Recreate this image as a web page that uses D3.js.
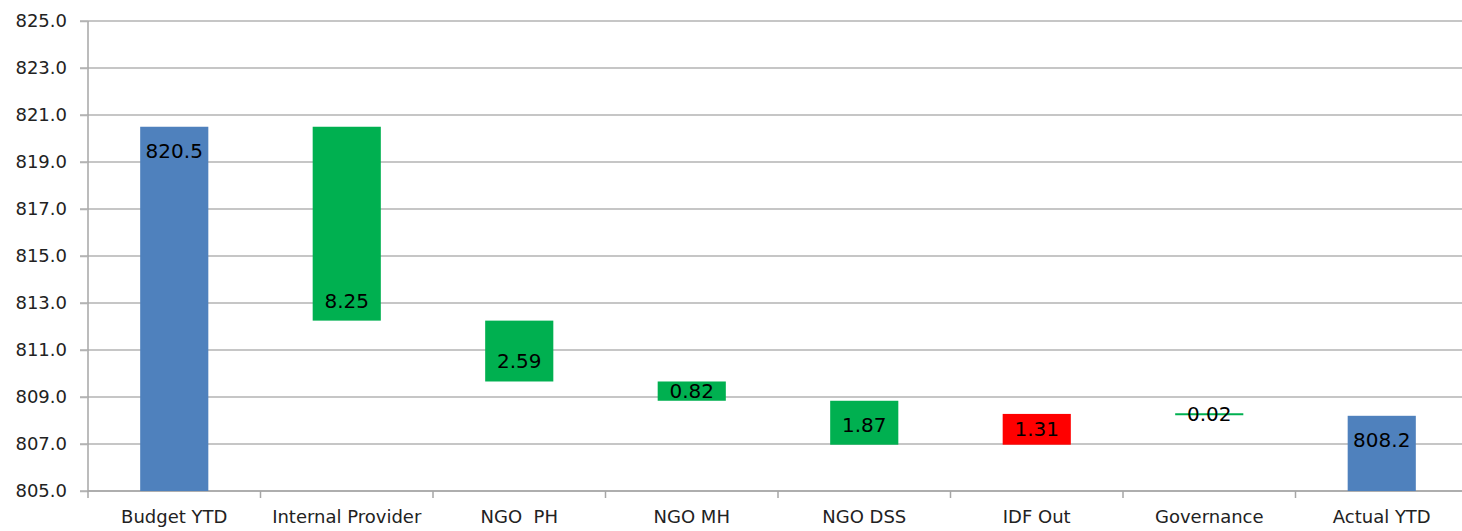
<!DOCTYPE html>
<html>
<head>
<meta charset="utf-8">
<script src="https://cdn.jsdelivr.net/npm/d3@7"></script>
<style>
  html, body { margin: 0; padding: 0; background: #fff; }
  svg text { font-family: "DejaVu Sans", sans-serif; }
</style>
</head>
<body>
<svg id="chart" width="1462" height="531"></svg>
<script>
// Budget-to-actual waterfall (YTD, $m)
const categories = ["Budget YTD", "Internal Provider", "NGO  PH", "NGO MH", "NGO DSS", "IDF Out", "Governance", "Actual YTD"];
const values     = [820.5, -8.25, -2.59, -0.82, -1.87, 1.31, -0.02, 808.2];
const kinds      = ["total", "change", "change", "change", "change", "change", "change", "total"];
const yTicks     = [805, 807, 809, 811, 813, 815, 817, 819, 821, 823, 825];

const colors = { total: "#4F81BD", down: "#00B050", up: "#FF0000" };

const svg = d3.select("#chart");
const plotLeft = 88, plotRight = 1468, plotTop = 21, plotBottom = 491;

const x = d3.scaleBand().domain(categories).range([plotLeft, plotRight]).padding(0);
const y = d3.scaleLinear().domain([805, 825]).range([plotBottom, plotTop]);

// floating segments from the running total
let running = 0;
const bars = categories.map((c, i) => {
  const v = values[i];
  if (kinds[i] === "total") {
    running = v;
    return { c, v, lo: 805, hi: v, kind: "total", label: d3.format(".1f")(v) };
  }
  const from = running;
  running += v;
  return {
    c, v,
    lo: Math.min(from, running), hi: Math.max(from, running),
    kind: v < 0 ? "down" : "up",
    label: d3.format(".2f")(Math.abs(v))
  };
});

// gridlines
svg.append("g")
  .selectAll("line")
  .data(yTicks)
  .join("line")
  .attr("x1", plotLeft - 8).attr("x2", 1462)
  .attr("y1", d => y(d)).attr("y2", d => y(d))
  .attr("stroke", "#b3b3b3").attr("stroke-width", 1.5);

// y axis
const yAxis = svg.append("g")
  .attr("transform", `translate(${plotLeft},0)`)
  .call(d3.axisLeft(y).tickValues(yTicks).tickFormat(d3.format(".1f")).tickSize(8).tickPadding(13));
yAxis.select(".domain").attr("stroke", "#a6a6a6").attr("stroke-width", 1.5).attr("d", `M0,${plotTop}V${plotBottom}`);
yAxis.selectAll(".tick line").attr("stroke", "#b3b3b3").attr("stroke-width", 1.5);
yAxis.selectAll(".tick text").attr("font-size", 18).attr("fill", "#222");

// x axis with ticks on category boundaries
const xAxis = svg.append("g").attr("transform", `translate(0,${plotBottom})`);
xAxis.append("line").attr("x1", plotLeft).attr("x2", 1462).attr("stroke", "#a6a6a6").attr("stroke-width", 1.5);
xAxis.selectAll("line.b")
  .data(categories)
  .join("line").attr("class", "b")
  .attr("x1", d => x(d)).attr("x2", d => x(d))
  .attr("y1", 0).attr("y2", 7)
  .attr("stroke", "#a6a6a6").attr("stroke-width", 1.5);
xAxis.selectAll("text")
  .data(categories)
  .join("text")
  .attr("x", d => x(d) + x.bandwidth() / 2)
  .attr("y", 32)
  .attr("text-anchor", "middle")
  .attr("font-size", 18)
  .attr("fill", "#222")
  .style("white-space", "pre")
  .text(d => d);

// bars
const bw = x.bandwidth() * 0.395;
svg.append("g")
  .selectAll("rect")
  .data(bars.filter(b => (y(b.lo) - y(b.hi)) >= 2))
  .join("rect")
  .attr("x", d => x(d.c) + (x.bandwidth() - bw) / 2)
  .attr("width", bw)
  .attr("y", d => y(d.hi))
  .attr("height", d => y(d.lo) - y(d.hi))
  .attr("fill", d => colors[d.kind]);

// very small changes drawn as a line
svg.append("g")
  .selectAll("line")
  .data(bars.filter(b => (y(b.lo) - y(b.hi)) < 2))
  .join("line")
  .attr("x1", d => x(d.c) + (x.bandwidth() - bw) / 2)
  .attr("x2", d => x(d.c) + (x.bandwidth() + bw) / 2)
  .attr("y1", d => y((d.lo + d.hi) / 2))
  .attr("y2", d => y((d.lo + d.hi) / 2))
  .attr("stroke", colors.down).attr("stroke-width", 2);

// value labels
svg.append("g")
  .selectAll("text")
  .data(bars)
  .join("text")
  .attr("x", d => x(d.c) + x.bandwidth() / 2)
  .attr("y", d => {
    const t = y(d.hi), b = y(d.lo), h = b - t;
    if (d.kind === "total") return t + 24;
    return h >= 40 ? b - 20 : t + h / 2;
  })
  .attr("dy", "0.35em")
  .attr("text-anchor", "middle")
  .attr("font-size", 20)
  .attr("fill", "#000")
  .text(d => d.label);
</script>
</body>
</html>
